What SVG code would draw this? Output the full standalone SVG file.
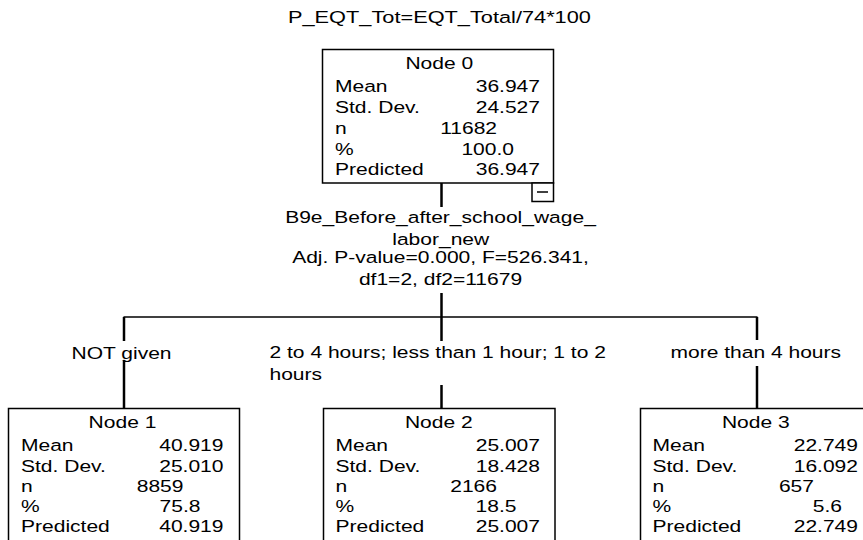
<svg xmlns="http://www.w3.org/2000/svg" width="863" height="540" viewBox="0 0 863 540">
<style>
  .t { font-family: "Liberation Sans", Arial, sans-serif; font-size: 16.3px; fill: #000; }
  .m { text-anchor: middle; }
  .e { text-anchor: end; }
  .box { fill: #fff; stroke: #000; stroke-width: 1.5; }
  .v { stroke: #000; stroke-width: 2.5; fill: none; }
  .h { stroke: #000; stroke-width: 1.5; fill: none; }
</style>
<rect x="0" y="0" width="863" height="540" fill="#fff"/>

<text class="t" transform="translate(288 23.3) scale(1.335 1)">P_EQT_Tot=EQT_Total/74*100</text>

<g id="connectors">
  <line class="v" x1="441.5" y1="183" x2="441.5" y2="207"/>
  <line class="v" x1="441.5" y1="293" x2="441.5" y2="317"/>
  <line class="h" x1="123.5" y1="317" x2="757.5" y2="317"/>
  <line class="v" x1="124" y1="317" x2="124" y2="341"/>
  <line class="v" x1="124" y1="360" x2="124" y2="408"/>
  <line class="v" x1="441.5" y1="317" x2="441.5" y2="341"/>
  <line class="v" x1="441.5" y1="385" x2="441.5" y2="408"/>
  <line class="v" x1="757" y1="317" x2="757" y2="340"/>
  <line class="v" x1="757" y1="366" x2="757" y2="408"/>
</g>

<g id="split-label">
  <text class="t m" transform="translate(440.5 223.3) scale(1.29 1)">B9e_Before_after_school_wage_</text>
  <text class="t m" transform="translate(440.7 245) scale(1.29 1)">labor_new</text>
  <text class="t m" transform="translate(440.5 263.3) scale(1.29 1)">Adj. P-value=0.000, F=526.341,</text>
  <text class="t m" transform="translate(440.5 285) scale(1.29 1)">df1=2, df2=11679</text>
</g>

<g id="edge-labels">
  <text class="t" transform="translate(71.5 359.3) scale(1.29 1)">NOT given</text>
  <text class="t" transform="translate(269.5 358.3) scale(1.29 1)">2 to 4 hours; less than 1 hour; 1 to 2</text>
  <text class="t" transform="translate(269.5 380) scale(1.29 1)">hours</text>
  <text class="t" transform="translate(670.5 358.3) scale(1.29 1)">more than 4 hours</text>
</g>

<g id="node0">
  <rect class="box" x="322.5" y="49.5" width="231" height="133.5"/>
  <text class="t m" transform="translate(439.3 69) scale(1.29 1)">Node 0</text>
  <text class="t" transform="translate(335 92) scale(1.29 1)">Mean</text>
  <text class="t e" transform="translate(540 92) scale(1.29 1)">36.947</text>
  <text class="t" transform="translate(335 113) scale(1.29 1)">Std. Dev.</text>
  <text class="t e" transform="translate(540 113) scale(1.29 1)">24.527</text>
  <text class="t" transform="translate(335 133.5) scale(1.29 1)">n</text>
  <text class="t e" transform="translate(497 133.5) scale(1.29 1)">11682</text>
  <text class="t" transform="translate(335 154.5) scale(1.29 1)">%</text>
  <text class="t e" transform="translate(514 154.5) scale(1.29 1)">100.0</text>
  <text class="t" transform="translate(335 175) scale(1.29 1)">Predicted</text>
  <text class="t e" transform="translate(540 175) scale(1.29 1)">36.947</text>
  <rect class="box" x="532" y="183" width="21.5" height="18.5"/>
  <line class="h" x1="537" y1="192" x2="548" y2="192"/>
</g>

<g id="node1">
  <rect class="box" x="8.5" y="408.5" width="231" height="140"/>
  <text class="t m" transform="translate(122.5 427.5) scale(1.29 1)">Node 1</text>
  <text class="t" transform="translate(21 451) scale(1.29 1)">Mean</text>
  <text class="t e" transform="translate(223.5 451) scale(1.29 1)">40.919</text>
  <text class="t" transform="translate(21 471.5) scale(1.29 1)">Std. Dev.</text>
  <text class="t e" transform="translate(223.5 471.5) scale(1.29 1)">25.010</text>
  <text class="t" transform="translate(21 491.5) scale(1.29 1)">n</text>
  <text class="t e" transform="translate(183.5 491.5) scale(1.29 1)">8859</text>
  <text class="t" transform="translate(21 512) scale(1.29 1)">%</text>
  <text class="t e" transform="translate(200.5 512) scale(1.29 1)">75.8</text>
  <text class="t" transform="translate(21 531.5) scale(1.29 1)">Predicted</text>
  <text class="t e" transform="translate(223.5 531.5) scale(1.29 1)">40.919</text>
</g>

<g id="node2">
  <rect class="box" x="323.5" y="408.5" width="231.5" height="140"/>
  <text class="t m" transform="translate(438.8 427.5) scale(1.29 1)">Node 2</text>
  <text class="t" transform="translate(335.5 451) scale(1.29 1)">Mean</text>
  <text class="t e" transform="translate(540 451) scale(1.29 1)">25.007</text>
  <text class="t" transform="translate(335.5 471.5) scale(1.29 1)">Std. Dev.</text>
  <text class="t e" transform="translate(540 471.5) scale(1.29 1)">18.428</text>
  <text class="t" transform="translate(335.5 491.5) scale(1.29 1)">n</text>
  <text class="t e" transform="translate(497 491.5) scale(1.29 1)">2166</text>
  <text class="t" transform="translate(335.5 512) scale(1.29 1)">%</text>
  <text class="t e" transform="translate(516.5 512) scale(1.29 1)">18.5</text>
  <text class="t" transform="translate(335.5 531.5) scale(1.29 1)">Predicted</text>
  <text class="t e" transform="translate(540 531.5) scale(1.29 1)">25.007</text>
</g>

<g id="node3">
  <rect class="box" x="640.5" y="408.5" width="232" height="140"/>
  <text class="t m" transform="translate(755.8 427.5) scale(1.29 1)">Node 3</text>
  <text class="t" transform="translate(652.5 451) scale(1.29 1)">Mean</text>
  <text class="t e" transform="translate(858 451) scale(1.29 1)">22.749</text>
  <text class="t" transform="translate(652.5 471.5) scale(1.29 1)">Std. Dev.</text>
  <text class="t e" transform="translate(858 471.5) scale(1.29 1)">16.092</text>
  <text class="t" transform="translate(652.5 491.5) scale(1.29 1)">n</text>
  <text class="t e" transform="translate(814 491.5) scale(1.29 1)">657</text>
  <text class="t" transform="translate(652.5 512) scale(1.29 1)">%</text>
  <text class="t e" transform="translate(842 512) scale(1.29 1)">5.6</text>
  <text class="t" transform="translate(652.5 531.5) scale(1.29 1)">Predicted</text>
  <text class="t e" transform="translate(858 531.5) scale(1.29 1)">22.749</text>
</g>
</svg>
